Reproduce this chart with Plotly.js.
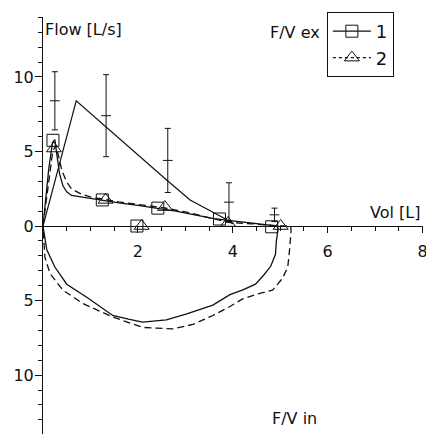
<!DOCTYPE html>
<html>
<head>
<meta charset="utf-8">
<script src="https://cdn.plot.ly/plotly-3.0.1.min.js"></script>
<style>
html,body{margin:0;padding:0;background:#fff;}
#chart{width:426px;height:434px;}
</style>
</head>
<body>
<div id="chart"></div>
<script>
// Series 1 (solid) flow-volume loop: expiration then inspiration
var vol1 = [0, 0.05, 0.12, 0.2, 0.25, 0.3, 0.35, 0.42, 0.5, 0.6, 0.8, 1.0, 1.25, 1.6, 2.0, 2.4, 2.8, 3.2, 3.6, 4.0, 4.4, 4.8, 4.95,
            4.95, 4.92, 4.9, 4.8, 4.65, 4.48, 4.2, 3.94, 3.58, 3.03, 2.6, 2.1, 1.8, 1.47, 0.93, 0.5, 0.25, 0.08, 0];
var flow1 = [0, 1.5, 3.8, 5.6, 5.8, 4.6, 3.5, 2.7, 2.3, 2.05, 1.95, 1.85, 1.7, 1.55, 1.38, 1.2, 1.0, 0.75, 0.5, 0.35, 0.22, 0.08, 0,
             -0.3, -1.0, -1.9, -2.7, -3.3, -3.9, -4.3, -4.6, -5.3, -5.9, -6.3, -6.45, -6.25, -6.0, -4.8, -3.9, -2.75, -1.6, 0];
// Series 2 (dashed) flow-volume loop
var vol2 = [0, 0.06, 0.13, 0.2, 0.26, 0.32, 0.4, 0.5, 0.6, 0.8, 1.0, 1.3, 1.6, 2.0, 2.5, 3.0, 3.5, 3.9, 4.4, 4.8, 5.0, 5.22,
            5.23, 5.2, 5.16, 5.05, 4.84, 4.48, 4.2, 3.94, 3.58, 3.16, 2.74, 2.4, 2.1, 1.47, 0.84, 0.42, 0.15, 0.04, 0];
var flow2 = [0, 1.5, 3.4, 4.9, 5.4, 4.8, 3.7, 2.95, 2.5, 2.15, 1.95, 1.78, 1.62, 1.45, 1.25, 0.95, 0.55, 0.25, 0.15, 0.05, 0, 0,
             -0.3, -1.5, -2.75, -3.5, -4.3, -4.6, -4.9, -5.4, -6.0, -6.6, -6.9, -6.85, -6.8, -6.1, -5.2, -4.3, -3.2, -2.1, 0];
// Markers
var mark1Vol = [0.21, 1.25, 2.42, 3.72, 4.82, 1.98];
var mark1Flow = [5.75, 1.75, 1.2, 0.47, -0.05, 0];
var mark2Vol = [0.23, 1.32, 2.57, 3.9, 5.01, 2.08];
var mark2Flow = [5.2, 1.75, 1.27, 0.2, 0, 0];
// Predicted curve
var predLineVol = [0, 0.7, 2.6, 3.1, 3.8, 4.0];
var predLineFlow = [0, 8.4, 3.1, 1.75, 0.55, 0.15];
// Predicted values with spread
var predVol = [0.25, 1.33, 2.63, 3.92, 4.88];
var predMean = [8.4, 7.4, 4.4, 1.6, 0.75];
var predSD = [1.95, 2.75, 2.15, 1.3, 0.45];
// Tick labels
var yTickVals = [-10, -5, 0, 5, 10];
var yTickText = ["10", "5", "0", "5", "10"];
var xTickVals = [2, 4, 6, 8];
var xTickText = ["2", "4", "6", "8"];
var seriesNames = ["1", "2"];

var ink = '#111';
var traces = [
  {x: predLineVol, y: predLineFlow, mode: 'lines', line: {color: ink, width: 1.2}, showlegend: false, hoverinfo: 'skip'},
  {x: predVol, y: predMean, mode: 'markers', showlegend: false,
   marker: {symbol: 'line-ew-open', size: 7, color: ink, line: {color: ink, width: 1}},
   error_y: {type: 'data', array: predSD, visible: true, width: 3, thickness: 1, color: ink}},
  {x: vol1, y: flow1, mode: 'lines', line: {color: ink, width: 1.3}, showlegend: false},
  {x: vol2, y: flow2, mode: 'lines', line: {color: ink, width: 1.3, dash: '7px,4px'}, showlegend: false},
  {x: mark1Vol, y: mark1Flow, mode: 'markers', showlegend: false,
   marker: {symbol: 'square-open', size: 12, color: ink, line: {color: ink, width: 1}}},
  {x: mark2Vol, y: mark2Flow, mode: 'markers', showlegend: false,
   marker: {symbol: 'triangle-up-open', size: 13, color: ink, line: {color: ink, width: 1}}},
  {x: [null], y: [null], name: seriesNames[0], mode: 'lines+markers',
   line: {color: ink, width: 1.2}, marker: {symbol: 'square-open', size: 12, color: ink, line: {color: ink, width: 1}}},
  {x: [null], y: [null], name: seriesNames[1], mode: 'lines+markers',
   line: {color: ink, width: 1.2, dash: '3px,3px'}, marker: {symbol: 'triangle-up-open', size: 13, color: ink, line: {color: ink, width: 1}}}
];

var F = 'DejaVu Sans, Verdana, sans-serif';
var layout = {
  width: 426, height: 434,
  margin: {l: 43, r: 3, t: 17, b: 0, pad: 0},
  paper_bgcolor: '#fff', plot_bgcolor: '#fff',
  font: {family: F, size: 16, color: ink},
  showlegend: true,
  legend: {x: 0.747, y: 1.012, xanchor: 'left', yanchor: 'top', bordercolor: ink, borderwidth: 1,
           itemwidth: 38,
           bgcolor: 'rgba(255,255,255,0)', font: {family: F, size: 18, color: ink}, tracegroupgap: 0},
  xaxis: {range: [0, 8.01], anchor: 'free', position: 0.4988, showline: true, linecolor: ink, linewidth: 1,
          showgrid: false, zeroline: false, ticks: 'outside', ticklen: 6, tickwidth: 1, tickcolor: ink,
          tickmode: 'array', tickvals: xTickVals, ticktext: xTickText, ticklabelstandoff: 5,
          ticklabeloverflow: 'allow',
          minor: {dtick: 0.5, tick0: 0, ticks: 'outside', ticklen: 4, tickwidth: 1, tickcolor: ink, showgrid: false},
          tickfont: {family: F, size: 16, color: ink}},
  yaxis: {range: [-13.95, 14.02], showline: true, linecolor: ink, linewidth: 1,
          showgrid: false, zeroline: false, ticks: 'outside', ticklen: 7, tickwidth: 1, tickcolor: ink,
          tickmode: 'array', tickvals: yTickVals, ticktext: yTickText, ticklabelstandoff: -2,
          minor: {dtick: 1, tick0: 0, ticks: 'outside', ticklen: 4, tickwidth: 1, tickcolor: ink, showgrid: false},
          tickfont: {family: F, size: 16, color: ink}},
  annotations: [
    {text: 'Flow [L/s]', xref: 'paper', yref: 'paper', x: 0.0, y: 0.969, xanchor: 'left', yanchor: 'middle', showarrow: false, font: {family: F, size: 16, color: ink}},
    {text: 'F/V ex', xref: 'paper', yref: 'paper', x: 0.592, y: 0.964, xanchor: 'left', yanchor: 'middle', showarrow: false, font: {family: F, size: 16, color: ink}},
    {text: 'Vol [L]', xref: 'paper', yref: 'paper', x: 0.855, y: 0.530, xanchor: 'left', yanchor: 'middle', showarrow: false, font: {family: F, size: 16, color: ink}},
    {text: 'F/V in', xref: 'paper', yref: 'paper', x: 0.597, y: 0.038, xanchor: 'left', yanchor: 'middle', showarrow: false, font: {family: F, size: 16, color: ink}}
  ]
};
Plotly.newPlot('chart', traces, layout, {displayModeBar: false, staticPlot: true});
</script>
</body>
</html>
